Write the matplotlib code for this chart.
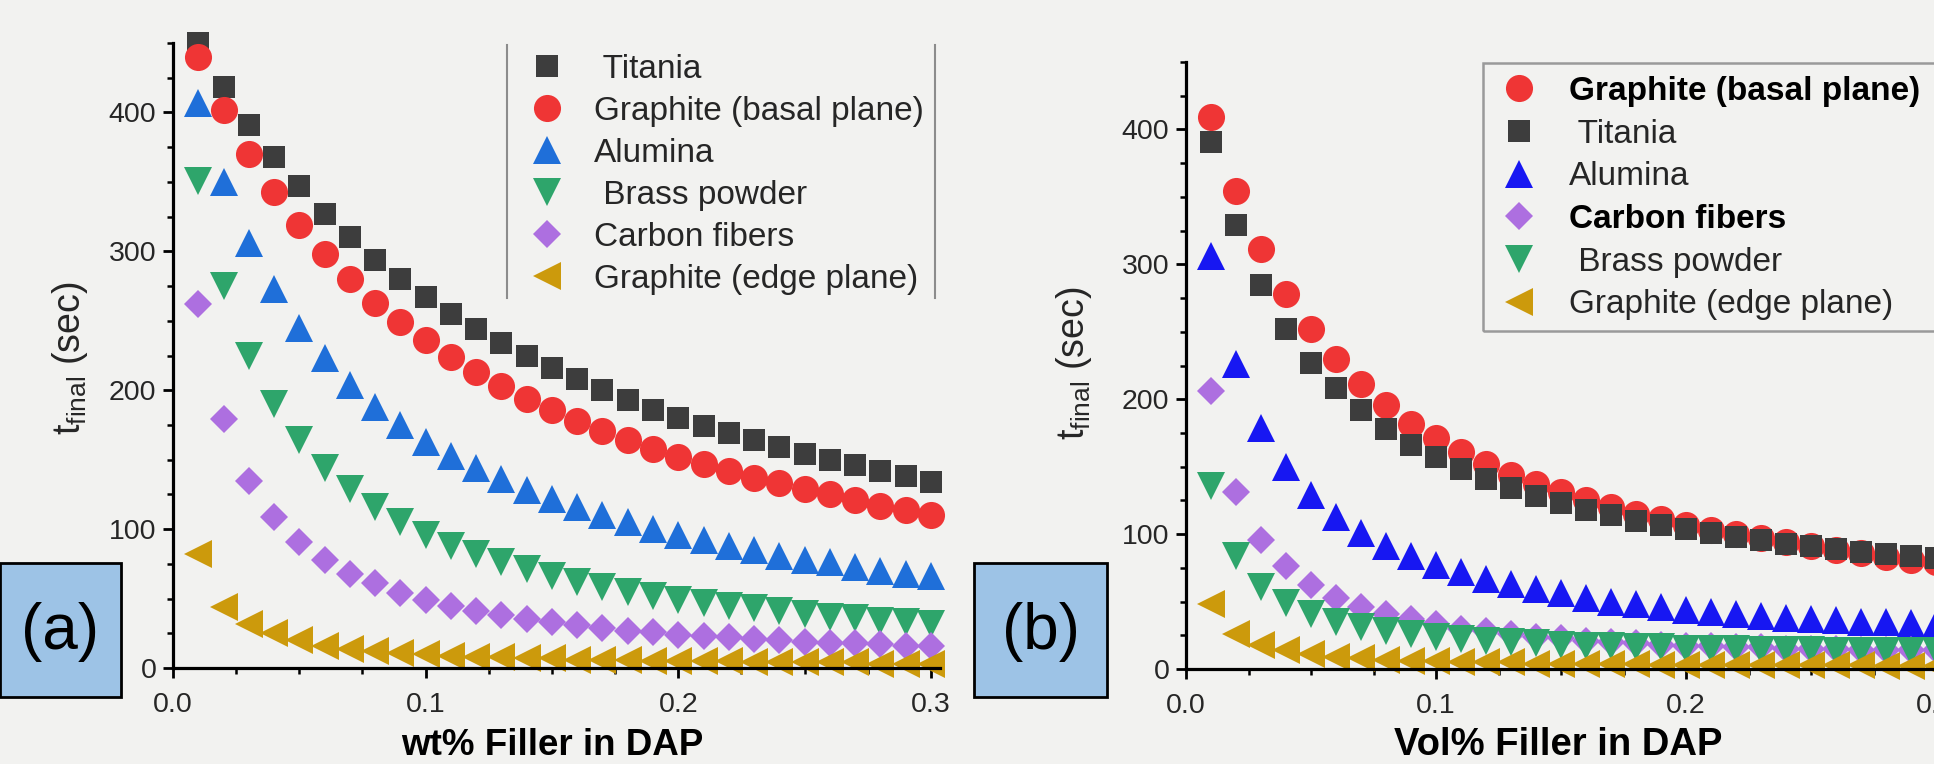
import numpy as np
import matplotlib.pyplot as plt
from matplotlib.patches import Rectangle
from matplotlib.lines import Line2D
from matplotlib.ticker import MultipleLocator

plt.rcParams['font.family'] = ['Liberation Sans', 'DejaVu Sans']
plt.rcParams['mathtext.default'] = 'regular'

# filler fraction (both panels)
x_vals = [0.01, 0.02, 0.03, 0.04, 0.05, 0.06, 0.07, 0.08, 0.09, 0.10,
          0.11, 0.12, 0.13, 0.14, 0.15, 0.16, 0.17, 0.18, 0.19, 0.20,
          0.21, 0.22, 0.23, 0.24, 0.25, 0.26, 0.27, 0.28, 0.29, 0.30]

# (a) wt% filler, t_final in sec
wt_titania = [450, 418, 391, 368, 347, 327, 310, 294, 280, 267,
              255, 244, 234, 225, 216, 208, 200, 193, 186, 180,
              174, 169, 164, 159, 154, 150, 146, 142, 138, 134]
wt_graphite_basal = [440, 402, 370, 343, 319, 298, 280, 263, 249, 236,
                     224, 213, 203, 194, 186, 178, 171, 164, 158, 152,
                     147, 142, 137, 133, 129, 125, 121, 117, 114, 110]
wt_alumina = [407, 350, 306, 273, 245, 223, 204, 188, 175, 163,
              153, 144, 136, 128, 122, 116, 110, 105, 100, 96,
              92, 88, 85, 81, 78, 76, 73, 70, 68, 66]
wt_brass = [351, 275, 225, 190, 164, 144, 129, 116, 105, 96,
            88, 82, 76, 71, 66, 62, 58, 55, 52, 49,
            47, 45, 43, 41, 39, 37, 36, 34, 33, 32]
wt_carbon = [262, 179, 135, 109, 91, 78, 68, 61, 54, 49,
             45, 41, 38, 35, 33, 31, 29, 27, 26, 24,
             23, 22, 21, 20, 19, 18, 18, 17, 16, 16]
wt_graphite_edge = [82, 44, 32, 25, 20, 16, 14, 12, 11, 10,
                    9, 8, 8, 7, 7, 6, 6, 6, 5, 5,
                    5, 5, 4, 4, 4, 4, 4, 3, 3, 3]

# (b) vol% filler
vol_graphite_basal = [409, 354, 311, 278, 252, 230, 211, 196, 182, 171,
                      161, 152, 144, 137, 131, 125, 120, 115, 111, 107,
                      103, 100, 97, 94, 91, 88, 86, 83, 81, 79]
vol_titania = [391, 329, 285, 252, 227, 208, 192, 178, 166, 157,
               148, 141, 134, 128, 123, 118, 114, 110, 107, 104,
               101, 98, 96, 93, 91, 89, 87, 85, 84, 82]
vol_alumina = [306, 226, 179, 150, 129, 113, 101, 91, 84, 77,
               72, 67, 63, 59, 56, 53, 50, 48, 46, 44,
               42, 41, 39, 38, 37, 36, 35, 35, 34, 33]
vol_carbon = [206, 131, 96, 76, 62, 53, 46, 41, 37, 33,
              30, 28, 26, 24, 23, 21, 20, 19, 18, 17,
              17, 16, 16, 15, 15, 15, 14, 14, 14, 14]
vol_brass = [136, 84, 61, 49, 41, 35, 31, 28, 26, 24,
             22, 21, 20, 19, 18, 17, 17, 16, 16, 15,
             15, 15, 14, 14, 14, 13, 13, 13, 13, 13]
vol_graphite_edge = [48, 26, 18, 14, 11, 9, 8, 7, 6, 6,
                     5, 5, 5, 4, 4, 4, 4, 4, 3, 3,
                     3, 3, 3, 3, 3, 3, 3, 2, 2, 2]

bg = '#f2f2f0'
txt = '#262626'

fig = plt.figure(figsize=(19.34, 7.64), dpi=100, facecolor=bg)
W, H = 1934, 764

def px_axes(x0, y_bottom, w, h):
    # pixel box (top-left origin) -> figure fraction
    return fig.add_axes([x0 / W, (H - y_bottom) / H, w / W, h / H])

ax1 = px_axes(173, 668, 767, 625)
ax2 = px_axes(1186, 669, 775, 607)

def style_axis(ax, xmax):
    ax.set_facecolor(bg)
    ax.set_xlim(0, xmax)
    ax.set_ylim(0, 450)
    for s in ['top', 'right']:
        ax.spines[s].set_visible(False)
    for s in ['left', 'bottom']:
        ax.spines[s].set_linewidth(2.3)
        ax.spines[s].set_color('black')
    ax.xaxis.set_major_locator(MultipleLocator(0.1))
    ax.xaxis.set_minor_locator(MultipleLocator(0.025))
    ax.yaxis.set_major_locator(MultipleLocator(100))
    ax.yaxis.set_minor_locator(MultipleLocator(25))
    ax.xaxis.set_major_formatter(plt.FuncFormatter(lambda v, p: f'{v:.1f}'))
    ax.tick_params(which='major', direction='out', length=7, width=2.0,
                   labelsize=20.5, labelcolor=txt, pad=5)
    ax.tick_params(axis='x', which='major', pad=10)
    ax.tick_params(which='minor', direction='out', length=4, width=1.8)

style_axis(ax1, 0.3036)
style_axis(ax2, 0.31)

ms = dict(linestyle='none', markeredgewidth=0, clip_on=False)

ax1.plot(x_vals, wt_titania, marker='s', ms=16.5, color='#3d3d3d', label=' Titania', **ms)
ax1.plot(x_vals, wt_graphite_basal, marker='o', ms=19.5, color='#ef3535', label='Graphite (basal plane)', **ms)
ax1.plot(x_vals, wt_alumina, marker='^', ms=20, color='#1f6fd9', label='Alumina', **ms)
ax1.plot(x_vals, wt_brass, marker='v', ms=20, color='#2ea56b', label=' Brass powder', **ms)
ax1.plot(x_vals, wt_carbon, marker='D', ms=14.5, color='#ad6fe0', label='Carbon fibers', **ms)
ax1.plot(x_vals, wt_graphite_edge, marker='<', ms=20, color='#cc9a0c', label='Graphite (edge plane)', **ms)

ax2.plot(x_vals, vol_graphite_basal, marker='o', ms=19.5, color='#ef3535', label='Graphite (basal plane)', **ms)
ax2.plot(x_vals, vol_titania, marker='s', ms=16.5, color='#3d3d3d', label=' Titania', **ms)
ax2.plot(x_vals, vol_alumina, marker='^', ms=20, color='#1717f2', label='Alumina', **ms)
ax2.plot(x_vals, vol_carbon, marker='D', ms=14.5, color='#ad6fe0', label='Carbon fibers', **ms)
ax2.plot(x_vals, vol_brass, marker='v', ms=20, color='#2ea56b', label=' Brass powder', **ms)
ax2.plot(x_vals, vol_graphite_edge, marker='<', ms=20, color='#cc9a0c', label='Graphite (edge plane)', **ms)

# axis labels
ylab = r'$t_{final}$ (sec)'
for ax, xl, xs, xc, yc, yl_x, yl_y in [
        (ax1, 'wt% Filler in DAP', 26.5, 0.495, -0.124, -0.134, 0.496),
        (ax2, 'Vol% Filler in DAP', 27.5, 0.48, -0.126, -0.145, 0.504)]:
    ax.set_xlabel(xl, fontsize=xs, fontweight='bold', color='black')
    ax.xaxis.set_label_coords(xc, yc)
    ax.xaxis.label.set_va('center')
    ax.set_ylabel(ylab, fontsize=27, color=txt)
    ax.yaxis.set_label_coords(yl_x, yl_y)
    ax.yaxis.label.set_va('center')

# legends
leg1 = ax1.legend(loc='upper left', bbox_to_anchor=(529 / W, 1 - 54 / H),
                  bbox_transform=fig.transFigure, frameon=False, fontsize=24,
                  handlelength=1.05, handletextpad=0.9, labelspacing=0.33,
                  borderpad=0, borderaxespad=0, markerscale=1.0)
for t in leg1.get_texts():
    t.set_color(txt)
leg2 = ax2.legend(loc='upper left', bbox_to_anchor=(1501 / W, 1 - 76 / H),
                  bbox_transform=fig.transFigure, frameon=False, fontsize=24,
                  handlelength=1.05, handletextpad=1.0, labelspacing=0.35,
                  borderpad=0, borderaxespad=0, markerscale=1.0)
for i, t in enumerate(leg2.get_texts()):
    t.set_color(txt)
    if i in (0, 3):
        t.set_fontweight('bold')
        t.set_color('black')

# legend frames
for xl in (507, 935):
    fig.add_artist(Line2D([xl / W, xl / W], [1 - 45 / H, 1 - 298 / H],
                          transform=fig.transFigure, color='#8c8c8c', lw=1.5))
fig.add_artist(Rectangle((1483 / W, 1 - 331 / H), 500 / W, 268 / H,
                         transform=fig.transFigure, facecolor='none',
                         edgecolor='#9a9a9a', lw=1.8))

# panel tags
for x0, x1, tag in [(0, 121, '(a)'), (974, 1107, '(b)')]:
    fig.add_artist(Rectangle((x0 / W, 1 - 697 / H), (x1 - x0) / W, 134 / H,
                             transform=fig.transFigure, facecolor='#9dc3e6',
                             edgecolor='black', lw=2.0))
    fig.text((x0 + x1) / 2 / W, 1 - 632 / H, tag, fontsize=46,
             ha='center', va='center', color='black')

fig.savefig('out.png', dpi=100, facecolor=bg)
